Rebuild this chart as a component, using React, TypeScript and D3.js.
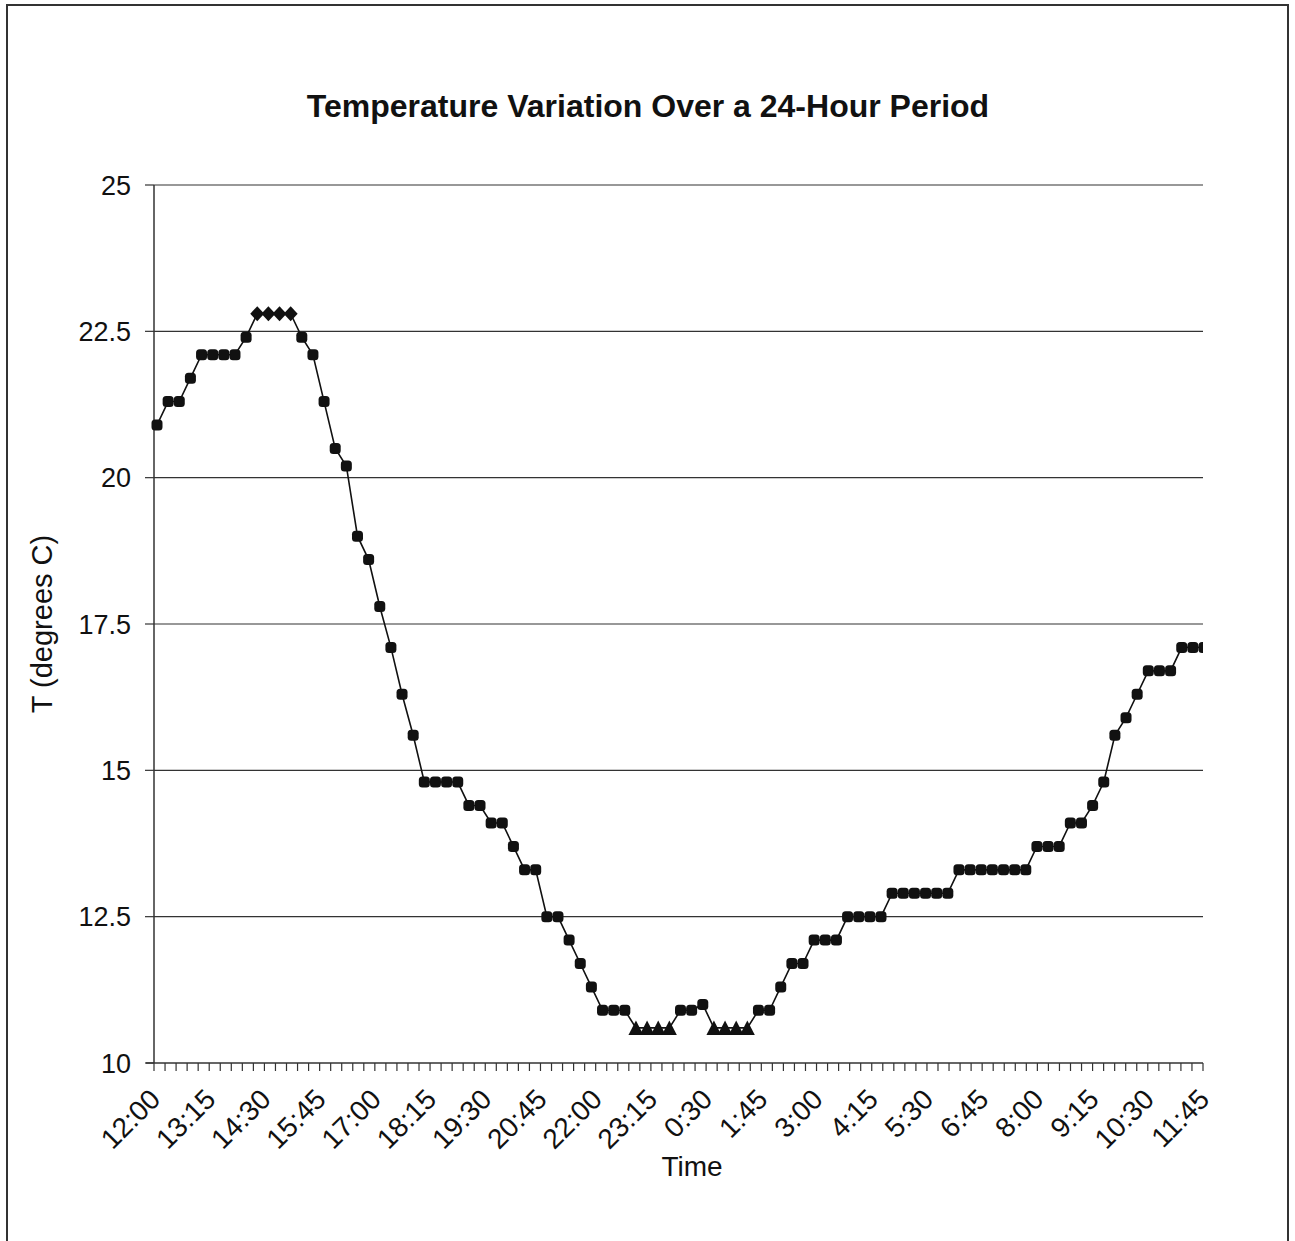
import React from "react";
import * as d3 from "d3";

const chartTitle = "Temperature Variation Over a 24-Hour Period";
const xTitle = "Time";
const yTitle = "T (degrees C)";
const tickLabels = ["12:00", "13:15", "14:30", "15:45", "17:00", "18:15", "19:30", "20:45", "22:00", "23:15", "0:30", "1:45", "3:00", "4:15", "5:30", "6:45", "8:00", "9:15", "10:30", "11:45"];
const yTicks = [10, 12.5, 15, 17.5, 20, 22.5, 25];
const temperatures = [
  20.9, 21.3, 21.3, 21.7, 22.1, 22.1, 22.1, 22.1, 22.4, 22.8,
  22.8, 22.8, 22.8, 22.4, 22.1, 21.3, 20.5, 20.2, 19.0, 18.6,
  17.8, 17.1, 16.3, 15.6, 14.8, 14.8, 14.8, 14.8, 14.4, 14.4,
  14.1, 14.1, 13.7, 13.3, 13.3, 12.5, 12.5, 12.1, 11.7, 11.3,
  10.9, 10.9, 10.9, 10.6, 10.6, 10.6, 10.6, 10.9, 10.9, 11.0,
  10.6, 10.6, 10.6, 10.6, 10.9, 10.9, 11.3, 11.7, 11.7, 12.1,
  12.1, 12.1, 12.5, 12.5, 12.5, 12.5, 12.9, 12.9, 12.9, 12.9,
  12.9, 12.9, 13.3, 13.3, 13.3, 13.3, 13.3, 13.3, 13.3, 13.7,
  13.7, 13.7, 14.1, 14.1, 14.4, 14.8, 15.6, 15.9, 16.3, 16.7,
  16.7, 16.7, 17.1, 17.1, 17.1,
];
const diamondPoints = [9, 10, 11, 12];
const trianglePoints = [43, 44, 45, 46, 50, 51, 52, 53];

const FONT = "'Liberation Sans', Arial, Helvetica, sans-serif";

export default function App() {
  const W = 1295, H = 1241;
  const left = 154, right = 1203, top = 185, bottom = 1063;
  const y = d3.scaleLinear().domain([10, 25]).range([bottom, top]);
  const nCat = (tickLabels.length - 1) * 5 + 1;
  const xAxis = d3.scaleLinear().domain([0, nCat - 1]).range([left, right]);
  const x = d3.scaleLinear().domain([0, temperatures.length - 1]).range([157, 1204]);
  const line = d3.line<number>().x((_, i) => x(i)).y((d) => y(d));
  const catTicks = d3.range(nCat);

  const marker = (v: number, i: number) => {
    const cx = x(i), cy = y(v);
    if (diamondPoints.includes(i)) {
      return <path key={i} d={`M${cx},${cy - 7.5}L${cx + 7},${cy}L${cx},${cy + 7.5}L${cx - 7},${cy}Z`} fill="#111" />;
    }
    if (trianglePoints.includes(i)) {
      return <path key={i} d={`M${cx},${cy - 7.5}L${cx + 7.5},${cy + 7}L${cx - 7.5},${cy + 7}Z`} fill="#111" />;
    }
    return <rect key={i} x={cx - 5.5} y={cy - 5.5} width={11} height={11} rx={3.5} fill="#111" />;
  };

  return (
    <svg width={W} height={H} style={{ position: "absolute", left: 0, top: 0, background: "#fff" }} fontFamily={FONT}>
      <rect x={0} y={0} width={W} height={H} fill="#fff" />
      <rect x={7} y={5} width={1281} height={1300} fill="none" stroke="#333" strokeWidth={2} />
      <text x={648} y={117} textAnchor="middle" fontSize={32} fontWeight="bold" fill="#111">{chartTitle}</text>

      {yTicks.filter((t) => t > 10).map((t) => (
        <line key={t} x1={left} x2={right} y1={y(t)} y2={y(t)} stroke="#333" strokeWidth={1.2} />
      ))}
      <defs>
        <clipPath id="plotClip">
          <rect x={left - 10} y={top - 20} width={right - left + 10} height={bottom - top + 40} />
        </clipPath>
      </defs>

      <line x1={left} x2={left} y1={top} y2={bottom} stroke="#333" strokeWidth={1.5} />
      <line x1={left - 8} x2={right} y1={bottom} y2={bottom} stroke="#333" strokeWidth={1.5} />
      {yTicks.map((t) => (
        <g key={t}>
          <line x1={left - 9} x2={left} y1={y(t)} y2={y(t)} stroke="#333" strokeWidth={1.2} />
          <text x={131} y={y(t)} dy="0.36em" textAnchor="end" fontSize={27} fill="#111">{String(t)}</text>
        </g>
      ))}
      {catTicks.map((i) => (
        <line key={i} x1={xAxis(i)} x2={xAxis(i)} y1={bottom} y2={bottom + 8} stroke="#333" strokeWidth={1.2} />
      ))}
      {tickLabels.map((lab, k) => {
        const tx = xAxis(k * 5) + 8, ty = bottom + 38;
        return (
          <text key={lab} transform={`translate(${tx},${ty}) rotate(-45)`} textAnchor="end" fontSize={28} fill="#111">{lab}</text>
        );
      })}
      <text x={692} y={1176} textAnchor="middle" fontSize={28} fill="#111">{xTitle}</text>
      <text transform={`translate(52,624) rotate(-90)`} textAnchor="middle" fontSize={29} fill="#111">{yTitle}</text>

      <g clipPath="url(#plotClip)">
        <path d={line(temperatures) || ""} fill="none" stroke="#111" strokeWidth={1.6} />
        {temperatures.map(marker)}
      </g>
    </svg>
  );
}
